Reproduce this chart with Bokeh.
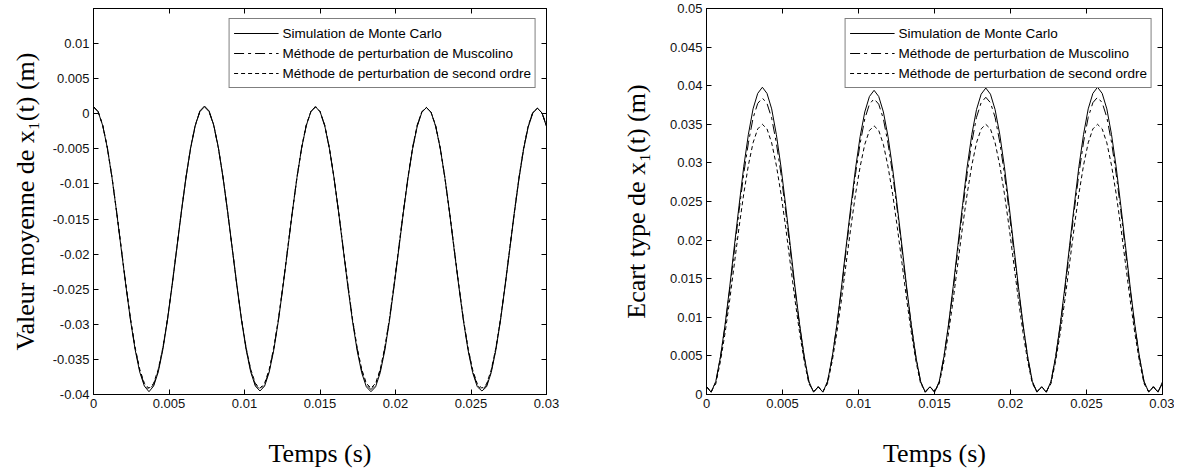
from bokeh.plotting import figure
from bokeh.models import Range1d, FixedTicker, LinearAxis, CustomJSTickFormatter
from bokeh.layouts import row
from bokeh.embed import file_html
from bokeh.resources import INLINE

# ---- data (time in s, values in m) ----
t = [0.0, 0.00030625, 0.0006125, 0.00091875, 0.001225, 0.00153125, 0.0018375, 0.00214375,
     0.00245, 0.00275625, 0.0030625, 0.00336875, 0.003675, 0.00398125, 0.0042875, 0.00459375,
     0.0049, 0.00520625, 0.0055125, 0.00581875, 0.006125, 0.00643125, 0.0067375, 0.00704375,
     0.00735, 0.00765625, 0.0079625, 0.00826875, 0.008575, 0.00888125, 0.0091875, 0.00949375,
     0.0098, 0.01010625, 0.0104125, 0.01071875, 0.011025, 0.01133125, 0.0116375, 0.01194375,
     0.01225, 0.01255625, 0.0128625, 0.01316875, 0.013475, 0.01378125, 0.0140875, 0.01439375,
     0.0147, 0.01500625, 0.0153125, 0.01561875, 0.015925, 0.01623125, 0.0165375, 0.01684375,
     0.01715, 0.01745625, 0.0177625, 0.01806875, 0.018375, 0.01868125, 0.0189875, 0.01929375,
     0.0196, 0.01990625, 0.0202125, 0.02051875, 0.020825, 0.02113125, 0.0214375, 0.02174375,
     0.02205, 0.02235625, 0.0226625, 0.02296875, 0.023275, 0.02358125, 0.0238875, 0.02419375,
     0.0245, 0.02480625, 0.0251125, 0.02541875, 0.025725, 0.02603125, 0.0263375, 0.02664375,
     0.02695, 0.02725625, 0.0275625, 0.02786875, 0.028175, 0.02848125, 0.0287875, 0.02909375,
     0.0294, 0.02970625, 0.0300125]

mean_mc = [
    0.0010, 0.0003, -0.0017, -0.0049, -0.0091, -0.0140, -0.0193, -0.0245, -0.0294, -0.0336, -0.0368, -0.0388,
    -0.0396, -0.0388, -0.0368, -0.0336, -0.0294, -0.0245, -0.0193, -0.0140, -0.0091, -0.0049, -0.0017, 0.0004,
    0.0011, 0.0004, -0.0016, -0.0048, -0.0090, -0.0139, -0.0192, -0.0245, -0.0294, -0.0336, -0.0368, -0.0388,
    -0.0395, -0.0388, -0.0368, -0.0336, -0.0294, -0.0245, -0.0193, -0.0140, -0.0091, -0.0049, -0.0017, 0.0003,
    0.0010, 0.0003, -0.0017, -0.0049, -0.0091, -0.0140, -0.0193, -0.0246, -0.0295, -0.0337, -0.0369, -0.0389,
    -0.0396, -0.0389, -0.0369, -0.0337, -0.0295, -0.0246, -0.0194, -0.0141, -0.0092, -0.0050, -0.0018, 0.0002,
    0.0009, 0.0002, -0.0018, -0.0050, -0.0092, -0.0141, -0.0194, -0.0246, -0.0295, -0.0337, -0.0369, -0.0389,
    -0.0395, -0.0389, -0.0369, -0.0337, -0.0295, -0.0246, -0.0194, -0.0142, -0.0093, -0.0051, -0.0019, 0.0001,
    0.0008, 0.0001, -0.0019]

mean_musc = [
    0.0010, 0.0003, -0.0017, -0.0049, -0.0091, -0.0140, -0.0192, -0.0244, -0.0293, -0.0334, -0.0366, -0.0386,
    -0.0393, -0.0386, -0.0366, -0.0334, -0.0293, -0.0244, -0.0192, -0.0140, -0.0091, -0.0049, -0.0017, 0.0003,
    0.0010, 0.0003, -0.0017, -0.0049, -0.0091, -0.0140, -0.0192, -0.0244, -0.0293, -0.0334, -0.0366, -0.0386,
    -0.0393, -0.0386, -0.0366, -0.0334, -0.0293, -0.0244, -0.0192, -0.0140, -0.0091, -0.0049, -0.0017, 0.0003,
    0.0010, 0.0003, -0.0017, -0.0049, -0.0091, -0.0140, -0.0192, -0.0244, -0.0293, -0.0334, -0.0366, -0.0386,
    -0.0393, -0.0386, -0.0366, -0.0334, -0.0293, -0.0244, -0.0192, -0.0140, -0.0091, -0.0049, -0.0017, 0.0003,
    0.0009, 0.0002, -0.0018, -0.0050, -0.0092, -0.0141, -0.0193, -0.0245, -0.0294, -0.0335, -0.0367, -0.0387,
    -0.0393, -0.0387, -0.0367, -0.0335, -0.0294, -0.0245, -0.0193, -0.0141, -0.0092, -0.0050, -0.0018, 0.0002,
    0.0008, 0.0001, -0.0018]

mean_so = [
    0.0010, 0.0003, -0.0016, -0.0048, -0.0090, -0.0139, -0.0191, -0.0243, -0.0292, -0.0333, -0.0364, -0.0384,
    -0.0391, -0.0384, -0.0364, -0.0333, -0.0292, -0.0243, -0.0191, -0.0139, -0.0090, -0.0048, -0.0016, 0.0003,
    0.0010, 0.0003, -0.0016, -0.0048, -0.0090, -0.0139, -0.0191, -0.0243, -0.0292, -0.0333, -0.0364, -0.0384,
    -0.0391, -0.0384, -0.0364, -0.0333, -0.0292, -0.0243, -0.0191, -0.0139, -0.0090, -0.0048, -0.0016, 0.0003,
    0.0010, 0.0003, -0.0016, -0.0048, -0.0090, -0.0139, -0.0191, -0.0243, -0.0292, -0.0333, -0.0364, -0.0384,
    -0.0391, -0.0384, -0.0364, -0.0333, -0.0292, -0.0243, -0.0191, -0.0139, -0.0090, -0.0048, -0.0016, 0.0003,
    0.0009, 0.0002, -0.0017, -0.0049, -0.0091, -0.0140, -0.0192, -0.0244, -0.0293, -0.0334, -0.0365, -0.0385,
    -0.0391, -0.0385, -0.0365, -0.0334, -0.0293, -0.0244, -0.0192, -0.0140, -0.0091, -0.0049, -0.0017, 0.0002,
    0.0008, 0.0001, -0.0018]

std_mc = [
    0.0010, 0.0003, 0.0017, 0.0049, 0.0091, 0.0140, 0.0193, 0.0245, 0.0295, 0.0337, 0.0370, 0.0390,
    0.0398, 0.0390, 0.0370, 0.0337, 0.0295, 0.0245, 0.0193, 0.0140, 0.0091, 0.0049, 0.0017, 0.0003,
    0.0010, 0.0003, 0.0017, 0.0048, 0.0090, 0.0139, 0.0192, 0.0243, 0.0292, 0.0334, 0.0366, 0.0386,
    0.0394, 0.0386, 0.0366, 0.0334, 0.0292, 0.0243, 0.0192, 0.0139, 0.0090, 0.0048, 0.0017, 0.0003,
    0.0010, 0.0003, 0.0017, 0.0049, 0.0091, 0.0140, 0.0193, 0.0245, 0.0295, 0.0337, 0.0369, 0.0389,
    0.0397, 0.0389, 0.0369, 0.0337, 0.0295, 0.0245, 0.0193, 0.0140, 0.0091, 0.0049, 0.0017, 0.0003,
    0.0010, 0.0003, 0.0017, 0.0049, 0.0091, 0.0140, 0.0193, 0.0245, 0.0295, 0.0337, 0.0370, 0.0390,
    0.0398, 0.0390, 0.0370, 0.0337, 0.0295, 0.0245, 0.0193, 0.0140, 0.0091, 0.0049, 0.0017, 0.0003,
    0.0010, 0.0003, 0.0017]

std_musc = [
    0.0010, 0.0003, 0.0016, 0.0048, 0.0089, 0.0136, 0.0187, 0.0238, 0.0286, 0.0326, 0.0358, 0.0377,
    0.0384, 0.0377, 0.0358, 0.0326, 0.0286, 0.0238, 0.0187, 0.0136, 0.0089, 0.0048, 0.0016, 0.0003,
    0.0010, 0.0003, 0.0016, 0.0048, 0.0089, 0.0136, 0.0187, 0.0238, 0.0285, 0.0325, 0.0357, 0.0376,
    0.0383, 0.0376, 0.0357, 0.0325, 0.0285, 0.0238, 0.0187, 0.0136, 0.0089, 0.0048, 0.0016, 0.0003,
    0.0010, 0.0003, 0.0016, 0.0048, 0.0089, 0.0136, 0.0187, 0.0238, 0.0286, 0.0327, 0.0359, 0.0378,
    0.0385, 0.0378, 0.0359, 0.0327, 0.0286, 0.0238, 0.0187, 0.0136, 0.0089, 0.0048, 0.0016, 0.0003,
    0.0010, 0.0003, 0.0016, 0.0048, 0.0089, 0.0136, 0.0187, 0.0238, 0.0286, 0.0327, 0.0359, 0.0378,
    0.0385, 0.0378, 0.0359, 0.0327, 0.0286, 0.0238, 0.0187, 0.0136, 0.0089, 0.0048, 0.0016, 0.0003,
    0.0010, 0.0003, 0.0016]

std_so = [
    0.0010, 0.0004, 0.0014, 0.0043, 0.0080, 0.0123, 0.0170, 0.0217, 0.0260, 0.0297, 0.0326, 0.0344,
    0.0350, 0.0344, 0.0326, 0.0297, 0.0260, 0.0217, 0.0170, 0.0123, 0.0080, 0.0043, 0.0014, 0.0004,
    0.0010, 0.0004, 0.0014, 0.0043, 0.0080, 0.0123, 0.0170, 0.0216, 0.0259, 0.0295, 0.0324, 0.0342,
    0.0348, 0.0342, 0.0324, 0.0295, 0.0259, 0.0216, 0.0170, 0.0123, 0.0080, 0.0043, 0.0014, 0.0004,
    0.0010, 0.0004, 0.0014, 0.0043, 0.0080, 0.0123, 0.0170, 0.0217, 0.0260, 0.0297, 0.0326, 0.0344,
    0.0350, 0.0344, 0.0326, 0.0297, 0.0260, 0.0217, 0.0170, 0.0123, 0.0080, 0.0043, 0.0014, 0.0004,
    0.0010, 0.0004, 0.0014, 0.0043, 0.0080, 0.0123, 0.0170, 0.0217, 0.0260, 0.0297, 0.0326, 0.0344,
    0.0350, 0.0344, 0.0326, 0.0297, 0.0260, 0.0217, 0.0170, 0.0123, 0.0080, 0.0043, 0.0014, 0.0004,
    0.0010, 0.0004, 0.0014]

series_labels = ["Simulation de Monte Carlo",
                 "Méthode de perturbation de Muscolino",
                 "Méthode de perturbation de second ordre"]
x_ticks = [0, 0.005, 0.01, 0.015, 0.02, 0.025, 0.03]
y_ticks_left = [-0.04, -0.035, -0.03, -0.025, -0.02, -0.015, -0.01, -0.005, 0, 0.005, 0.01]
y_ticks_right = [0, 0.005, 0.01, 0.015, 0.02, 0.025, 0.03, 0.035, 0.04, 0.045, 0.05]
x_label = "Temps (s)"
y_label_left = "Valeur moyenne de x₁(t) (m)"
y_label_right = "Ecart type de x₁(t) (m)"

TICK_FONT = "Liberation Sans"
TITLE_FONT = "Liberation Serif"
fmt = CustomJSTickFormatter(code="return String(Math.round(tick * 1e6) / 1e6);")
dashes = ["solid", "10 4 3 4", "4 3"]


def style_axis(ax, ticks, show_labels=True):
    ax.ticker = FixedTicker(ticks=ticks)
    ax.formatter = fmt
    ax.major_tick_in = 5
    ax.major_tick_out = 0
    ax.minor_tick_line_color = None
    ax.axis_line_color = "black"
    ax.major_tick_line_color = "black"
    if show_labels:
        ax.major_label_text_font = TICK_FONT
        ax.major_label_text_font_size = "13px"
        ax.major_label_text_color = "#111111"
        ax.major_label_standoff = 4
    else:
        ax.major_label_text_color = None
        ax.major_label_text_font_size = "0px"
        ax.major_label_standoff = 0


def make_fig(width, left_border, right_border, yr, yticks, ylabel, ys, ystandoff):
    p = figure(width=width, height=470, output_backend="svg", toolbar_location=None,
               x_range=Range1d(0, 0.03), y_range=Range1d(*yr),
               min_border_left=left_border, min_border_right=right_border,
               min_border_top=8, min_border_bottom=75)
    p.grid.visible = False
    p.outline_line_color = "black"
    p.outline_line_width = 1
    p.background_fill_color = "white"
    p.border_fill_color = "white"

    style_axis(p.xaxis[0], x_ticks)
    style_axis(p.yaxis[0], yticks)
    p.xaxis[0].axis_label = x_label
    p.yaxis[0].axis_label = ylabel
    for ax, st in ((p.xaxis[0], 28), (p.yaxis[0], ystandoff)):
        ax.axis_label_text_font = TITLE_FONT
        ax.axis_label_text_font_size = "26px"
        ax.axis_label_text_font_style = "normal"
        ax.axis_label_text_color = "black"
        ax.axis_label_standoff = st

    top = LinearAxis()
    style_axis(top, x_ticks, show_labels=False)
    p.add_layout(top, "above")
    right = LinearAxis()
    style_axis(right, yticks, show_labels=False)
    p.add_layout(right, "right")

    for vals, lab, dash in zip(ys, series_labels, dashes):
        p.line(t, vals, line_color="black", line_width=1, line_dash=dash, legend_label=lab)

    lg = p.legend[0]
    lg.location = "top_right"
    lg.margin = 10
    lg.padding = 4
    lg.spacing = 0
    lg.label_height = 20
    lg.glyph_height = 20
    lg.glyph_width = 45
    lg.label_standoff = 4
    lg.label_text_font = TICK_FONT
    lg.label_text_font_size = "13.5px"
    lg.label_text_color = "black"
    lg.border_line_color = "black"
    lg.border_line_width = 1
    lg.background_fill_alpha = 1
    return p


p1 = make_fig(608, 93, 62, (-0.04, 0.015), y_ticks_left, y_label_left,
              [mean_mc, mean_musc, mean_so], 10)
p2 = make_fig(566, 98, 12, (0, 0.05), y_ticks_right, y_label_right,
              [std_mc, std_musc, std_so], 16)

layout = row(p1, p2)
open("out.html", "w").write(file_html(layout, INLINE))
